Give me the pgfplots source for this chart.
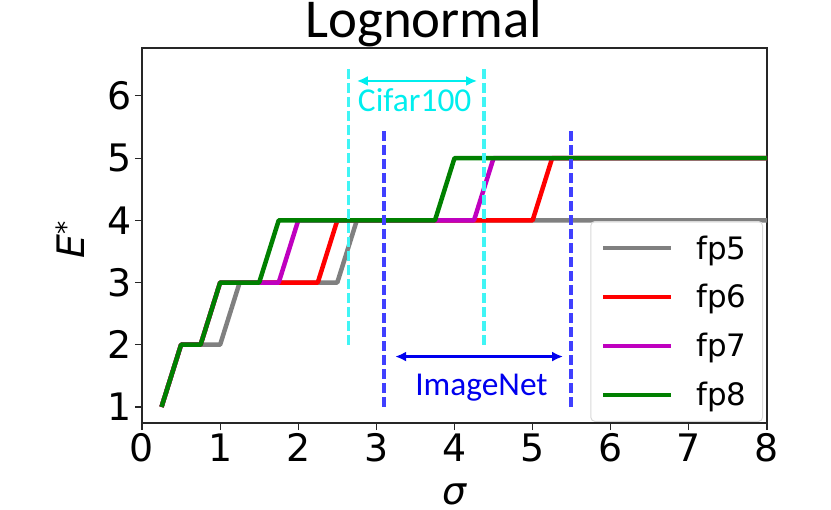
\documentclass[border=0pt]{standalone}
\usepackage{pgfplots}
\pgfplotsset{compat=1.18}
\usepackage{fontspec}
\setmainfont{DejaVu Sans}
\newfontfamily\carlito{Carlito}
\usetikzlibrary{arrows.meta}
\definecolor{mgrey}{RGB}{128,128,128}
\definecolor{mred}{RGB}{255,0,0}
\definecolor{mmag}{RGB}{191,0,191}
\definecolor{mgreen}{RGB}{0,128,0}
\definecolor{cyanl}{RGB}{64,245,245}
\definecolor{bluel}{RGB}{64,64,255}
\definecolor{cyant}{RGB}{0,238,238}
\definecolor{bluet}{RGB}{0,0,238}
\newcommand\legfont{\fontsize{31}{33}\selectfont}
\begin{document}
\begin{tikzpicture}
\path[use as bounding box] (-142bp,-87bp) rectangle (689bp,423bp);
\begin{axis}[
  scale only axis, width=625bp, height=375bp,
  at={(0,0)}, anchor=south west,
  xmin=0, xmax=8, ymin=0.742, ymax=6.77,
  xtick={0,1,2,3,4,5,6,7,8}, ytick={1,2,3,4,5,6},
  tick pos=left,
  tick align=outside, major tick length=7bp,
  tick style={line width=1.2bp, black!85},
  axis line style={line width=1.5bp, black!85},
  ticklabel style={font=\fontsize{38}{40}\selectfont},
  /pgf/number format/assume math mode=true,
  xlabel={\itshape σ},
  ylabel={{\itshape E}\textsuperscript{*}},
  label style={font=\fontsize{38}{40}\selectfont, inner sep=0pt},
  xlabel style={at={(axis description cs:0.5,-0.19)}, anchor=center},
  ylabel style={at={(axis description cs:-0.115,0.488)}, anchor=center},
  legend style={at={(0.9936,0.003)}, anchor=south east, draw=black!15,
    line width=1bp, rounded corners=4bp, fill=white, fill opacity=0.8,
    text opacity=1, inner xsep=10bp, inner ysep=14bp, row sep=24bp,
    nodes={inner sep=0pt, font=\legfont},
    font=\legfont},
  legend cell align=left,
  legend image code/.code={\draw[#1, line width=4.5bp] (0bp,0bp) -- (68bp,0bp);},
  every axis plot/.append style={line width=4.5bp, line join=round},
]
\addplot[mgrey] coordinates {(0.25,1) (0.5,2) (1.0,2) (1.25,3) (2.5,3) (2.75,4) (8,4)};
\addlegendentry{\legfont\hspace*{23bp}fp5\hspace*{6bp}}
\addplot[mred] coordinates {(0.25,1) (0.5,2) (0.75,2) (1.0,3) (2.25,3) (2.5,4) (5.0,4) (5.25,5) (8,5)};
\addlegendentry{\legfont\hspace*{23bp}fp6\hspace*{6bp}}
\addplot[mmag] coordinates {(0.25,1) (0.5,2) (0.75,2) (1.0,3) (1.75,3) (2.0,4) (4.25,4) (4.5,5) (8,5)};
\addlegendentry{\legfont\hspace*{23bp}fp7\hspace*{6bp}}
\addplot[mgreen] coordinates {(0.25,1) (0.5,2) (0.75,2) (1.0,3) (1.5,3) (1.75,4) (3.75,4) (4.0,5) (8,5)};
\addlegendentry{\legfont\hspace*{23bp}fp8\hspace*{6bp}}
\addplot[cyanl, line width=3.5bp, dash pattern=on 10bp off 4bp, forget plot] coordinates {(2.64,2.0) (2.64,6.5)};
\addplot[cyanl, line width=3.5bp, dash pattern=on 10bp off 4bp, forget plot] coordinates {(4.38,2.0) (4.38,6.5)};
\addplot[bluel, line width=3.5bp, dash pattern=on 10bp off 4bp, forget plot] coordinates {(3.10,1.0) (3.10,5.47)};
\addplot[bluel, line width=3.5bp, dash pattern=on 10bp off 4bp, forget plot] coordinates {(5.49,1.0) (5.49,5.47)};
\draw[cyant, line width=2.2bp, {Latex[length=11bp,width=10bp]}-{Latex[length=11bp,width=10bp]}] (axis cs:2.75,6.24) -- (axis cs:4.29,6.24);
\draw[bluet, line width=2.2bp, {Latex[length=11bp,width=10bp]}-{Latex[length=11bp,width=10bp]}] (axis cs:3.24,1.81) -- (axis cs:5.39,1.81);
\node[anchor=base, text=cyant, font=\carlito\fontsize{33.5}{36}\selectfont, inner sep=0pt] at (axis cs:3.49,5.75) {Cifar100};
\node[anchor=base, text=bluet, font=\carlito\fontsize{33.5}{36}\selectfont, inner sep=0pt] at (axis cs:4.345,1.19) {ImageNet};
\end{axis}
\node[anchor=base, font=\carlito\fontsize{55}{58}\selectfont, inner sep=0pt] at (282bp,385bp) {Lognormal};
\end{tikzpicture}
\end{document}
